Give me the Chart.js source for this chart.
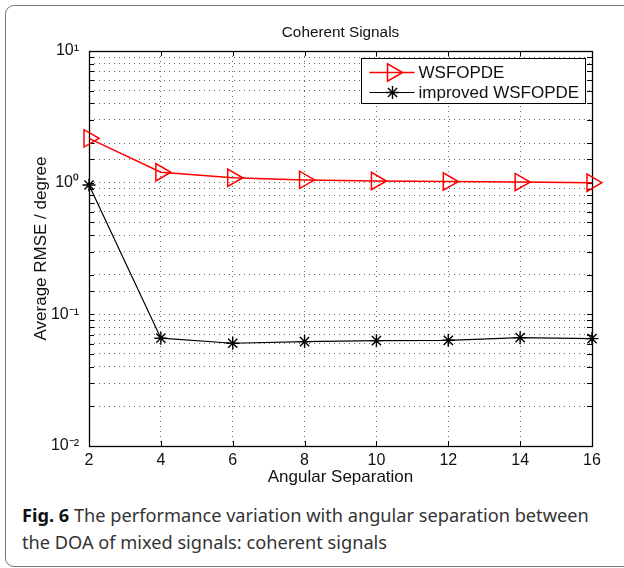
<!DOCTYPE html>
<html>
<head>
<meta charset="utf-8">
<script src="https://cdn.jsdelivr.net/npm/chart.js@4.4.0/dist/chart.umd.min.js"></script>
<style>
  html, body { margin: 0; padding: 0; background: #fff; }
  body { width: 624px; height: 568px; position: relative; overflow: hidden; }
  .card {
    position: absolute; left: 5px; top: 5px; width: 640px; height: 562px;
    border: 1.5px solid #777; border-radius: 9px; box-sizing: border-box;
  }
  #wrap { position: absolute; left: 0; top: 0; width: 624px; height: 490px; }
  .caption {
    position: absolute; left: 22px; top: 502px;
    font-family: "Noto Sans", sans-serif; font-size: 18.2px; line-height: 26.5px;
    color: #333; white-space: nowrap;
  }
  .caption b { color: #111; }
</style>
</head>
<body>
<div class="card"></div>
<div id="wrap"><canvas id="chart" width="624" height="490"></canvas></div>
<div class="caption"><b>Fig. 6</b> The performance variation with angular separation between<br>the DOA of mixed signals: coherent signals</div>
<script>
// data
const angles = [2, 4, 6, 8, 10, 12, 14, 16];
const wsfopde = [2.17, 1.2, 1.09, 1.05, 1.03, 1.02, 1.01, 1.0];
const improvedWsfopde = [0.96, 0.0659, 0.0603, 0.0621, 0.0631, 0.0635, 0.0665, 0.0654];
const seriesNames = ['WSFOPDE', 'improved WSFOPDE'];
const chartTitle = 'Coherent Signals';

const sup = { '-': '\u207B', '0': '\u2070', '1': '\u00B9', '2': '\u00B2' };
const axisFont = { family: 'Liberation Sans', size: 16 };

// title centred over the axes, not over the whole canvas
const axesTitle = {
  id: 'axesTitle',
  afterDraw(chart) {
    const c = chart.ctx;
    const a = chart.chartArea;
    c.save();
    c.fillStyle = '#111';
    c.font = '15.3px "Liberation Sans"';
    c.textAlign = 'center';
    c.textBaseline = 'middle';
    c.fillText(chartTitle, (a.left + a.right) / 2, 33);
    c.restore();
  }
};

// axes box with inward tick marks, like matlab
const frame = {
  id: 'frame',
  beforeDatasetsDraw(chart) {
    const c = chart.ctx;
    const a = chart.chartArea;
    c.save();
    c.strokeStyle = '#000';
    c.lineWidth = 1;
    chart.scales.x.ticks.forEach(t => {
      const px = Math.round(chart.scales.x.getPixelForValue(t.value)) + 0.5;
      c.beginPath();
      c.moveTo(px, a.bottom); c.lineTo(px, a.bottom - 5);
      c.moveTo(px, a.top); c.lineTo(px, a.top + 5);
      c.stroke();
    });
    chart.scales.y.ticks.forEach(t => {
      const py = Math.round(chart.scales.y.getPixelForValue(t.value)) + 0.5;
      c.beginPath();
      c.moveTo(a.left, py); c.lineTo(a.left + 5, py);
      c.moveTo(a.right, py); c.lineTo(a.right - 5, py);
      c.stroke();
    });
    c.lineWidth = 1.3;
    c.strokeRect(Math.round(a.left) + 0.5, Math.round(a.top) + 0.5, Math.round(a.right - a.left), Math.round(a.bottom - a.top));
    c.restore();
  }
};

// legend box in the upper right corner of the axes
const legendBox = {
  id: 'legendBox',
  afterDraw(chart) {
    const c = chart.ctx;
    const a = chart.chartArea;
    const x0 = Math.round(a.right) - 231 + 0.5, y0 = Math.round(a.top) + 7 + 0.5;
    c.save();
    c.fillStyle = '#fff';
    c.fillRect(x0, y0, 224, 45);
    c.strokeStyle = '#000';
    c.lineWidth = 1;
    c.strokeRect(x0, y0, 224, 45);
    chart.data.datasets.forEach((ds, i) => {
      const cy = y0 + 14 + i * 20;
      c.strokeStyle = ds.borderColor;
      c.lineWidth = ds.borderWidth;
      c.beginPath();
      c.moveTo(x0 + 8, cy); c.lineTo(x0 + 53, cy);
      c.stroke();
      c.fillStyle = 'rgba(0,0,0,0)';
      c.lineWidth = ds.pointBorderWidth;
      Chart.helpers.drawPoint(c, {
        pointStyle: ds.pointStyle, rotation: ds.pointRotation,
        radius: ds.pointRadius, borderWidth: ds.pointBorderWidth
      }, x0 + 31, cy);
      c.fillStyle = '#111';
      c.font = '17px "Liberation Sans"';
      c.textBaseline = 'middle';
      c.fillText(ds.label, x0 + 57, cy + 1);
    });
    c.restore();
  }
};

new Chart(document.getElementById('chart'), {
  type: 'line',
  data: {
    datasets: [{
      label: seriesNames[0],
      data: angles.map((x, i) => ({ x, y: wsfopde[i] })),
      borderColor: '#ff0000',
      borderWidth: 1.5,
      pointStyle: 'triangle',
      pointRotation: 90,
      pointRadius: 10,
      pointBorderWidth: 1.5,
      pointBackgroundColor: 'rgba(0,0,0,0)',
      pointBorderColor: '#ff0000',
      clip: false
    }, {
      label: seriesNames[1],
      data: angles.map((x, i) => ({ x, y: improvedWsfopde[i] })),
      borderColor: '#000',
      borderWidth: 1.2,
      pointStyle: 'star',
      pointRadius: 6.5,
      pointBorderWidth: 1.4,
      pointBackgroundColor: 'rgba(0,0,0,0)',
      pointBorderColor: '#000',
      clip: false
    }]
  },
  options: {
    responsive: false,
    animation: false,
    events: [],
    layout: { padding: { left: 0, right: 32, top: 51, bottom: 0 } },
    plugins: {
      legend: { display: false },
      tooltip: { enabled: false },
      title: { display: false }
    },
    scales: {
      x: {
        type: 'linear',
        min: 2,
        max: 16,
        afterFit(scale) { scale.height = 44; },
        ticks: { stepSize: 2, padding: 5, color: '#111', font: axisFont, maxRotation: 0 },
        grid: { color: '#666', drawTicks: false },
        border: { display: false, dash: [1, 4] },
        title: {
          display: true, text: 'Angular Separation', color: '#111',
          font: { family: 'Liberation Sans', size: 17 }, padding: { top: 0, bottom: 2 }
        }
      },
      y: {
        type: 'logarithmic',
        min: 0.01,
        max: 10,
        afterFit(scale) { scale.width = 89; },
        ticks: {
          autoSkip: false,
          padding: 10,
          color: '#111',
          font: axisFont,
          callback(v) {
            const e = Math.log10(v);
            if (Math.abs(e - Math.round(e)) > 1e-6) return '';
            return '10' + String(Math.round(e)).split('').map(ch => sup[ch]).join('');
          }
        },
        grid: { color: '#666', drawTicks: false },
        border: { display: false, dash: [1, 4] },
        title: {
          display: true, text: 'Average RMSE / degree', color: '#111',
          font: { family: 'Liberation Sans', size: 17 }, padding: { top: 31, bottom: 0 }
        }
      }
    }
  },
  plugins: [frame, axesTitle, legendBox]
});
</script>
</body>
</html>
